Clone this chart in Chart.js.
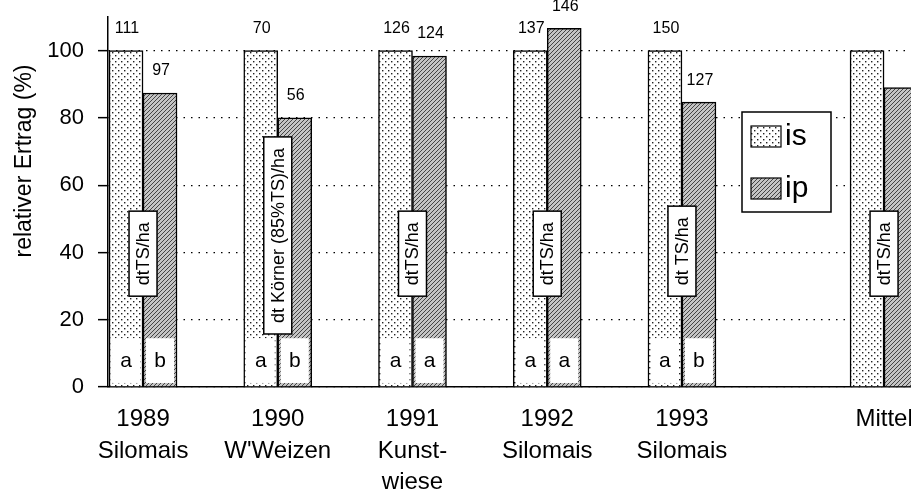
<!DOCTYPE html>
<html>
<head>
<meta charset="utf-8">
<script src="https://cdn.jsdelivr.net/npm/chart.js@4.4.1/dist/chart.umd.min.js"></script>
<style>
  html, body { margin: 0; background: #fff; }
  canvas { display: block; }
</style>
</head>
<body>
<canvas id="ertragChart" width="911" height="493"></canvas>
<script>
// Kategorien und Werte (relativer Ertrag, is = 100 %)
const categories = [['1989', 'Silomais'], ['1990', "W'Weizen"], ['1991', 'Kunst-', 'wiese'], ['1992', 'Silomais'], ['1993', 'Silomais'], ['Mittel']];
const catPos = [0, 1, 2, 3, 4, 5.5];
const isValues = [100, 100, 100, 100, 100, 100];
const ipValues = [87.4, 80, 98.4, 106.6, 84.7, 89];
const isAbsolute = [111, 70, 126, 137, 150, null];
const ipAbsolute = [97, 56, 124, 146, 127, null];
const isLetters = ['a', 'a', 'a', 'a', 'a', ''];
const ipLetters = ['b', 'b', 'a', 'a', 'b', ''];
const unitLabels = ['dtTS/ha', 'dt Körner (85%TS)/ha', 'dtTS/ha', 'dtTS/ha', 'dt TS/ha', 'dtTS/ha'];
const yTicks = [0, 20, 40, 60, 80, 100];

const FONT = '"Liberation Sans", Arial, Helvetica, sans-serif';
const canvas = document.getElementById('ertragChart');
const mainCtx = canvas.getContext('2d');

function makeDots() {
    const tile = document.createElement('canvas');
    tile.width = 6; tile.height = 6;
    const g = tile.getContext('2d');
    g.fillStyle = '#fff';
    g.fillRect(0, 0, 6, 6);
    g.fillStyle = '#222';
    g.fillRect(1, 1, 1.4, 1.4);
    g.fillRect(4, 4, 1.4, 1.4);
    return mainCtx.createPattern(tile, 'repeat');
}

function makeHatch() {
    const tile = document.createElement('canvas');
    tile.width = 4; tile.height = 4;
    const g = tile.getContext('2d');
    g.fillStyle = '#c4c4c4';
    g.fillRect(0, 0, 4, 4);
    g.strokeStyle = '#444';
    g.lineWidth = 1;
    g.beginPath();
    g.moveTo(0, 4); g.lineTo(4, 0);
    g.moveTo(-1, 1); g.lineTo(1, -1);
    g.moveTo(3, 5); g.lineTo(5, 3);
    g.stroke();
    return mainCtx.createPattern(tile, 'repeat');
}

const dots = makeDots();
const hatch = makeHatch();

// Beschriftungen in und über den Balken
const annotations = {
    id: 'annotations',
    afterDatasetsDraw(chart) {
        const { ctx, scales: { y } } = chart;
        const isBars = chart.getDatasetMeta(0).data;
        const ipBars = chart.getDatasetMeta(1).data;
        ctx.save();
        catPos.forEach((p, i) => {
            const pairs = [
                [isBars[i], isLetters[i], isAbsolute[i]],
                [ipBars[i], ipLetters[i], ipAbsolute[i]]
            ];
            pairs.forEach(([bar, letter, abs]) => {
                const w = bar.width;
                if (letter) {
                    const top = y.getPixelForValue(14.5);
                    const bot = y.getPixelForValue(1.2);
                    ctx.fillStyle = '#fff';
                    ctx.fillRect(bar.x - w / 2 + 3, top, w - 6, bot - top);
                    ctx.fillStyle = '#000';
                    ctx.font = '21px ' + FONT;
                    ctx.textAlign = 'center';
                    ctx.textBaseline = 'middle';
                    ctx.fillText(letter, bar.x, (top + bot) / 2 + 1);
                }
                if (abs !== null) {
                    ctx.fillStyle = '#000';
                    ctx.font = '16px ' + FONT;
                    ctx.textAlign = 'center';
                    ctx.textBaseline = 'middle';
                    ctx.fillText(String(abs), bar.x + 1, bar.y - 22);
                }
            });

            // Einheit, senkrecht in weißem Kasten
            const cx = (isBars[i].x + ipBars[i].x) / 2;
            ctx.font = '18px ' + FONT;
            const tw = ctx.measureText(unitLabels[i]).width;
            const h = tw + 22;
            const boxW = 28;
            let bottom = y.getPixelForValue(27);
            let top = bottom - h;
            const minTop = ipBars[i].y + 19;
            if (top < minTop) {
                top = minTop;
                bottom = top + h;
            }
            ctx.fillStyle = '#fff';
            ctx.fillRect(cx - boxW / 2, top, boxW, h);
            ctx.strokeStyle = '#000';
            ctx.lineWidth = 1.5;
            ctx.strokeRect(cx - boxW / 2, top, boxW, h);
            ctx.save();
            ctx.translate(cx + 1, (top + bottom) / 2);
            ctx.rotate(-Math.PI / 2);
            ctx.fillStyle = '#000';
            ctx.textAlign = 'center';
            ctx.textBaseline = 'middle';
            ctx.fillText(unitLabels[i], 0, 0);
            ctx.restore();
        });
        ctx.restore();
    },
    afterDraw(chart) {
        const { ctx } = chart;
        ctx.save();
        // Achsentitel
        ctx.translate(25, 161);
        ctx.rotate(-Math.PI / 2);
        ctx.fillStyle = '#000';
        ctx.font = '23px ' + FONT;
        ctx.textAlign = 'center';
        ctx.textBaseline = 'middle';
        ctx.fillText('relativer Ertrag (%)', 0, 0);
        ctx.restore();

        // Legende
        ctx.save();
        ctx.fillStyle = '#fff';
        ctx.fillRect(742, 112, 89, 100);
        ctx.strokeStyle = '#000';
        ctx.lineWidth = 1.5;
        ctx.strokeRect(742, 112, 89, 100);
        chart.data.datasets.forEach((ds, i) => {
            const sy = 126 + i * 52;
            ctx.fillStyle = ds.backgroundColor;
            ctx.fillRect(751, sy, 30, 21);
            ctx.strokeStyle = '#000';
            ctx.lineWidth = 1.2;
            ctx.strokeRect(751, sy, 30, 21);
            ctx.fillStyle = '#000';
            ctx.font = '30px ' + FONT;
            ctx.textAlign = 'left';
            ctx.textBaseline = 'middle';
            ctx.fillText(ds.label, 785, sy + 11);
        });
        ctx.restore();
    }
};

new Chart(canvas, {
    type: 'bar',
    data: {
        datasets: [{
            label: 'is',
            data: catPos.map((p, i) => ({ x: p, y: isValues[i] })),
            backgroundColor: dots,
            borderColor: '#000',
            borderWidth: 1.5,
            barThickness: 34
        }, {
            label: 'ip',
            data: catPos.map((p, i) => ({ x: p, y: ipValues[i] })),
            backgroundColor: hatch,
            borderColor: '#000',
            borderWidth: 1.5,
            barThickness: 34
        }]
    },
    options: {
        responsive: false,
        animation: false,
        devicePixelRatio: 1,
        layout: { padding: { top: 17, right: 0, left: 0, bottom: 0 } },
        plugins: {
            legend: { display: false },
            tooltip: { enabled: false }
        },
        scales: {
            x: {
                type: 'linear',
                min: -0.26,
                max: 5.7,
                offset: false,
                grid: { display: false, offset: false },
                border: { color: '#000', width: 1.5 },
                afterBuildTicks: s => { s.ticks = catPos.map(v => ({ value: v })); },
                afterFit: s => {
                    s.height = 106;
                    s.paddingLeft = 0;
                    s.paddingRight = 0;
                },
                ticks: {
                    autoSkip: false,
                    maxRotation: 0,
                    padding: 8,
                    color: '#000',
                    font: { family: FONT, size: 24, lineHeight: 1.33 },
                    callback: (v, i) => categories[i]
                }
            },
            y: {
                min: 0,
                max: 110,
                afterBuildTicks: s => { s.ticks = yTicks.map(v => ({ value: v })); },
                afterFit: s => {
                    s.width = 108;
                    s.paddingTop = 0;
                    s.paddingBottom = 0;
                },
                grid: {
                    color: '#000',
                    lineWidth: 1.3,
                    tickLength: 10,
                    tickColor: '#000',
                    tickWidth: 1.5,
                    tickBorderDash: []
                },
                border: { color: '#000', width: 1.5, dash: [1.5, 6] },
                ticks: {
                    padding: 14,
                    color: '#000',
                    font: { family: FONT, size: 22 }
                }
            }
        }
    },
    plugins: [annotations]
});
</script>
</body>
</html>
